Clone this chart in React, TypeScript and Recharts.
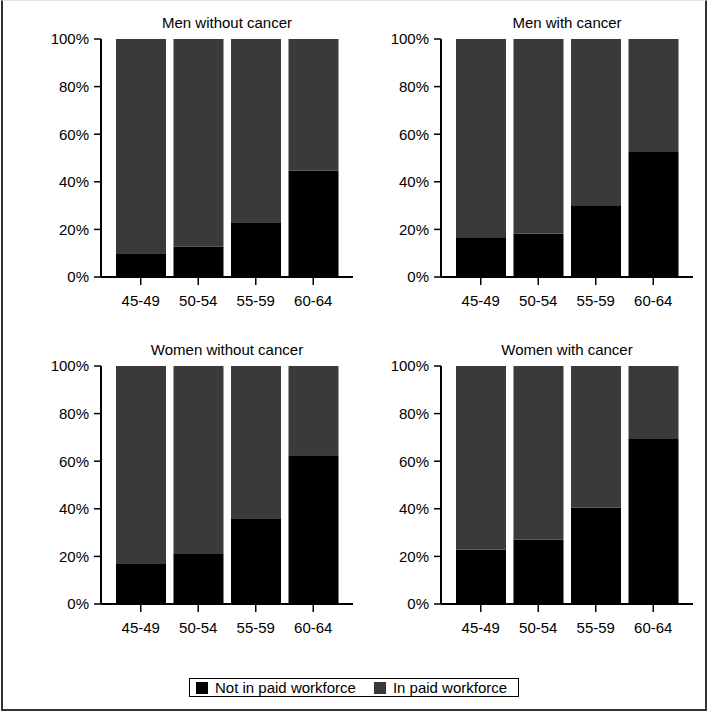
import React from 'react';
import { BarChart, Bar, XAxis, YAxis } from 'recharts';

const categories = ['45-49', '50-54', '55-59', '60-64'];
const yTicks = [0, 20, 40, 60, 80, 100];

const menWithoutNot = [10, 12.7, 23, 44.7];
const menWithoutIn = [90, 87.3, 77, 55.3];
const menWithNot = [16.4, 18.3, 29.8, 52.5];
const menWithIn = [83.6, 81.7, 70.2, 47.5];
const womenWithoutNot = [17.1, 21.3, 36, 62.5];
const womenWithoutIn = [82.9, 78.7, 64, 37.5];
const womenWithNot = [22.9, 27.1, 40.5, 69.3];
const womenWithIn = [77.1, 72.9, 59.5, 30.7];

const seriesNames = ['Not in paid workforce', 'In paid workforce'];
const seriesColors = ['#000000', '#3a3a3a'];

const FONT = '"Liberation Sans", Arial, Helvetica, sans-serif';
const axisStroke = { stroke: '#000', strokeWidth: 2 };
const tickStroke = { stroke: '#000', strokeWidth: 1.5 };

type PanelProps = { title: string; notIn: number[]; inPaid: number[]; left: number; top: number };

function Panel({ title, notIn, inPaid, left, top }: PanelProps) {
  const data = categories.map((c, i) => ({ age: c, notIn: notIn[i], inPaid: inPaid[i] }));
  return (
    <div style={{ position: 'absolute', left, top, width: 354, height: 320 }}>
      <div
        style={{
          position: 'absolute',
          left: 101,
          width: 252,
          top: 13.5,
          textAlign: 'center',
          fontSize: 15,
          lineHeight: '17px',
          color: '#000',
        }}
      >
        {title}
      </div>
      <BarChart
        width={354}
        height={320}
        data={data}
        margin={{ top: 39, right: 1, bottom: 0, left: 0 }}
        barCategoryGap={4}
      >
        <XAxis
          dataKey="age"
          xAxisId="b"
          height={43}
          padding={{ left: 11, right: 11 }}
          tickSize={8}
          tickMargin={10}
          interval={0}
          axisLine={axisStroke}
          tickLine={tickStroke}
          tick={{ fill: '#000', fontSize: 15, fontFamily: FONT }}
        />
        <XAxis
          dataKey="age"
          xAxisId="t"
          orientation="top"
          height={0}
          tick={false}
          tickLine={false}
          axisLine={axisStroke}
        />
        <YAxis
          yAxisId="l"
          width={101}
          domain={[0, 100]}
          ticks={yTicks}
          interval={0}
          tickFormatter={(v: number) => `${v}%`}
          tickSize={7}
          tickMargin={5}
          axisLine={axisStroke}
          tickLine={tickStroke}
          tick={{ fill: '#000', fontSize: 15, fontFamily: FONT }}
        />
        <YAxis
          yAxisId="r"
          orientation="right"
          width={0}
          domain={[0, 100]}
          tick={false}
          tickLine={false}
          axisLine={axisStroke}
        />
        <Bar dataKey="notIn" name={seriesNames[0]} stackId="s" fill={seriesColors[0]} xAxisId="b" yAxisId="l" isAnimationActive={false} />
        <Bar dataKey="inPaid" name={seriesNames[1]} stackId="s" fill={seriesColors[1]} xAxisId="b" yAxisId="l" isAnimationActive={false} />
      </BarChart>
    </div>
  );
}

export default function App() {
  return (
    <div
      style={{
        position: 'absolute',
        left: 0,
        top: 0,
        width: 708,
        height: 713,
        background: '#fff',
        fontFamily: FONT,
        color: '#000',
      }}
    >
      <div
        style={{
          position: 'absolute',
          left: 1,
          top: 0,
          width: 706,
          height: 711,
          boxSizing: 'border-box',
          borderLeft: '2px solid #333',
          borderRight: '2px solid #333',
          borderBottom: '2px solid #333',
          borderTop: '1px solid #e4e4e4',
        }}
      />
      <Panel title="Men without cancer" notIn={menWithoutNot} inPaid={menWithoutIn} left={0} top={0} />
      <Panel title="Men with cancer" notIn={menWithNot} inPaid={menWithIn} left={340} top={0} />
      <Panel title="Women without cancer" notIn={womenWithoutNot} inPaid={womenWithoutIn} left={0} top={327} />
      <Panel title="Women with cancer" notIn={womenWithNot} inPaid={womenWithIn} left={340} top={327} />
      <div
        style={{
          position: 'absolute',
          left: 189,
          top: 678,
          width: 330,
          height: 19,
          boxSizing: 'border-box',
          border: '1.5px solid #000',
          display: 'flex',
          alignItems: 'center',
          paddingLeft: 6,
          fontSize: 15,
          lineHeight: '17px',
          whiteSpace: 'nowrap',
        }}
      >
        {seriesNames.map((n, i) => (
          <div key={n} style={{ display: 'flex', alignItems: 'center', marginLeft: i === 0 ? 0 : 18 }}>
            <span style={{ display: 'inline-block', width: 12, height: 12, background: seriesColors[i], marginRight: 7 }} />
            <span>{n}</span>
          </div>
        ))}
      </div>
    </div>
  );
}
